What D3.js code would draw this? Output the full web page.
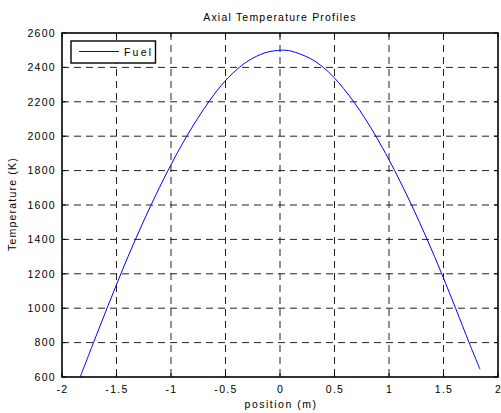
<!DOCTYPE html>
<html><head><meta charset="utf-8">
<script src="https://cdn.jsdelivr.net/npm/d3@7"></script>
<style>
html,body{margin:0;padding:0;background:#fff;}
text{font-family:"Liberation Sans",Arial,sans-serif;fill:#000;}
</style></head>
<body><svg id="c" width="501" height="413"></svg>
<script>
const positions = [-1.833,-1.711,-1.587,-1.46,-1.326,-1.183,-1.028,-0.856,-0.653,-0.505,-0.373,-0.286,-0.137,0.012,0.1,0.28,0.397,0.495,0.677,0.88,1.052,1.207,1.35,1.484,1.611,1.735,1.835];
const fuelTemps = [600,800,1000,1200,1400,1600,1800,2000,2200,2320,2400,2440,2485,2500,2495,2451,2400,2342,2200,2000,1800,1600,1400,1200,1000,800,645];
const xTicks = [-2,-1.5,-1,-0.5,0,0.5,1,1.5,2];
const yTicks = [600,800,1000,1200,1400,1600,1800,2000,2200,2400,2600];
const title = "Axial Temperature Profiles";
const xLabel = "position (m)";
const yLabel = "Temperature (K)";
const seriesName = "Fuel";

const svg = d3.select("#c");
const L=62,R=498,T=33,B=377;
const x = d3.scaleLinear().domain([-2,2]).range([L,R]);
const y = d3.scaleLinear().domain([600,2600]).range([B,T]);

// grid
const g = svg.append("g");
g.selectAll("line.gx").data(xTicks.slice(1,-1)).join("line")
  .attr("x1",d=>x(d)).attr("x2",d=>x(d)).attr("y1",T).attr("y2",B)
  .attr("stroke","#222").attr("stroke-width",1).attr("stroke-dasharray","7,5");
g.selectAll("line.gy").data(yTicks.slice(1,-1)).join("line")
  .attr("y1",d=>y(d)).attr("y2",d=>y(d)).attr("x1",L).attr("x2",R)
  .attr("stroke","#222").attr("stroke-width",1).attr("stroke-dasharray","7,5");

// inward ticks on all sides
const tl=4;
const tk = svg.append("g").attr("stroke","#000").attr("stroke-width",1);
xTicks.forEach(d=>{
  tk.append("line").attr("x1",x(d)).attr("x2",x(d)).attr("y1",B).attr("y2",B-tl);
  tk.append("line").attr("x1",x(d)).attr("x2",x(d)).attr("y1",T).attr("y2",T+tl);
});
yTicks.forEach(d=>{
  tk.append("line").attr("y1",y(d)).attr("y2",y(d)).attr("x1",L).attr("x2",L+tl);
  tk.append("line").attr("y1",y(d)).attr("y2",y(d)).attr("x1",R).attr("x2",R-tl);
});

// axes labels via d3 axes (no lines)
const xa = svg.append("g").attr("transform",`translate(0,${B})`)
  .call(d3.axisBottom(x).tickValues(xTicks).tickSize(0).tickPadding(9).tickFormat(d=>String(d)));
const ya = svg.append("g").attr("transform",`translate(${L},0)`)
  .call(d3.axisLeft(y).tickValues(yTicks).tickSize(0).tickPadding(6).tickFormat(d=>String(d)));
[xa,ya].forEach(a=>{
  a.select(".domain").remove();
  a.selectAll("text").attr("font-size",10.5).attr("letter-spacing","1.3px")
   .attr("font-family","'Liberation Sans',Arial,sans-serif").attr("fill","#000");
});

// curve
const line = d3.line().x((d,i)=>x(positions[i])).y(d=>y(d)).curve(d3.curveCatmullRom.alpha(0.5));
svg.append("path").datum(fuelTemps).attr("d",line)
  .attr("fill","none").attr("stroke","#0000ff").attr("stroke-width",1);

// box
svg.append("rect").attr("x",L).attr("y",T).attr("width",R-L).attr("height",B-T)
  .attr("fill","none").attr("stroke","#000").attr("stroke-width",1.6);

// legend
svg.append("rect").attr("x",71).attr("y",41).attr("width",84.5).attr("height",22)
  .attr("fill","#fff").attr("stroke","#000").attr("stroke-width",1.4);
svg.append("line").attr("x1",79).attr("x2",119).attr("y1",51.5).attr("y2",51.5)
  .attr("stroke","#0000ff").attr("stroke-width",1);
svg.append("text").attr("x",124).attr("y",55.5).attr("font-size",10.5)
  .attr("letter-spacing","2.2px").text(seriesName);

// titles
svg.append("text").attr("x",280).attr("y",21).attr("text-anchor","middle")
  .attr("font-size",10.5).attr("letter-spacing","1.2px").text(title);
svg.append("text").attr("x",281).attr("y",408).attr("text-anchor","middle")
  .attr("font-size",10.5).attr("letter-spacing","1.5px").text(xLabel);
svg.append("text").attr("transform","translate(16,204) rotate(-90)").attr("text-anchor","middle")
  .attr("font-size",10.5).attr("letter-spacing","1.2px").text(yLabel);
</script></body></html>
